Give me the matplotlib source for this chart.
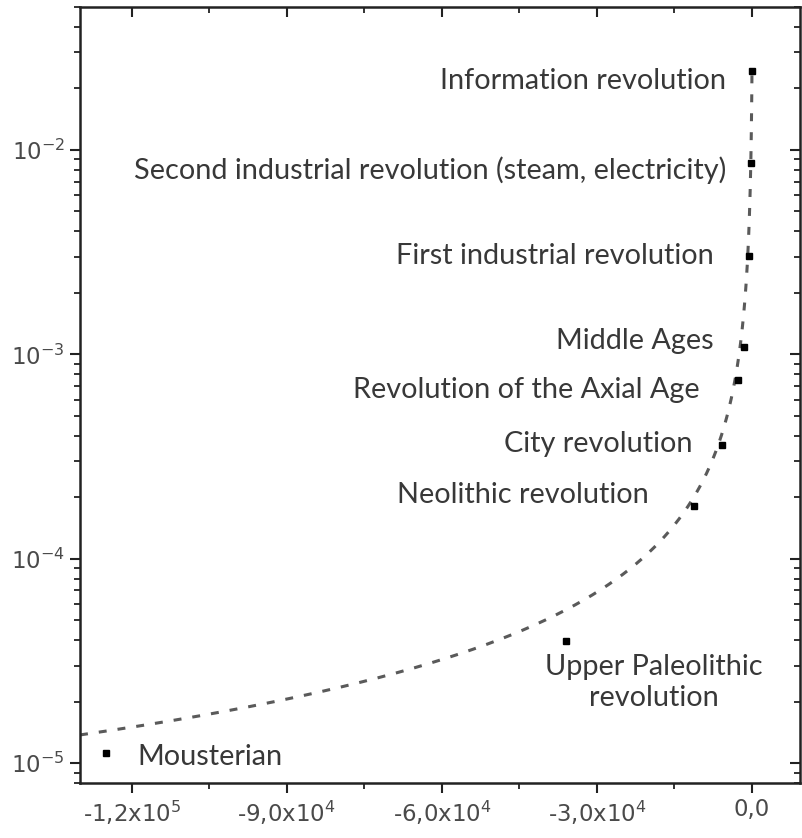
import numpy as np
import matplotlib
matplotlib.use("Agg")
import matplotlib.pyplot as plt
from matplotlib.ticker import FixedLocator, LogLocator, NullFormatter, FuncFormatter

plt.rcParams["mathtext.fontset"] = "custom"
plt.rcParams["mathtext.rm"] = "DejaVu Sans"
plt.rcParams["mathtext.it"] = "DejaVu Sans"
plt.rcParams["font.family"] = ["DejaVu Sans"]

# Time (years relative to present) and rate of each revolution
events = [
    "Information revolution",
    "Second industrial revolution (steam, electricity)",
    "First industrial revolution",
    "Middle Ages",
    "Revolution of the Axial Age",
    "City revolution",
    "Neolithic revolution",
    "Upper Paleolithic\nrevolution",
    "Mousterian",
]
years = [0, -200, -600, -1600, -2800, -5800, -11300, -36000, -125000]
rates = [2.43e-2, 8.65e-3, 3.03e-3, 1.09e-3, 7.48e-4, 3.60e-4, 1.81e-4, 3.97e-5, 1.12e-5]

# Hyperbolic-type trend: rate = C / (t0 - t)^k
fit_C = 5.81
fit_t0 = 140.0
fit_k = 1.1
fit_start, fit_end = -1.3e5, 0.0

xticks = [-1.2e5, -9.0e4, -6.0e4, -3.0e4, 0.0]
xtick_labels = [r"-1,2x10$^{5}$", r"-9,0x10$^{4}$", r"-6,0x10$^{4}$",
                r"-3,0x10$^{4}$", "0,0"]
xminor = [-1.05e5, -7.5e4, -4.5e4, -1.5e4]

# label offsets (points) and alignment for each event
label_offsets = [(-19, -7), (-18, -5), (-25, 0), (-22, 4), (-27, -7),
                 (-21, 1), (-32, 8), (63, -30), (23, -3)]
label_ha = ["right"] * 7 + ["center", "left"]

fig = plt.figure(figsize=(8.02, 8.38), dpi=100)
ax = fig.add_axes([0.0998, 0.0656, 0.8978, 0.926])

t_fit = np.linspace(fit_start, fit_end, 3000)
y_fit = fit_C / (fit_t0 - t_fit) ** fit_k
ax.plot(t_fit, y_fit, color="#5a5a5a", lw=2.2, dashes=(2.6, 3.6), zorder=2)

ax.plot(years, rates, linestyle="none", marker="s", ms=5, color="black",
        zorder=3)

txt_color = "#383838"
for name, x, y, off, ha in zip(events, years, rates, label_offsets, label_ha):
    ax.annotate(name, (x, y), xytext=off, textcoords="offset points",
                ha=ha, va="center", multialignment="center",
                linespacing=1.25, fontsize=20.8, family="Lato",
                color=txt_color)

ax.set_yscale("log")
ax.set_xlim(-1.3e5, 9.3e3)
ax.set_ylim(8e-6, 5e-2)

spine_color = "#222222"
for s in ax.spines.values():
    s.set_linewidth(1.8)
    s.set_color(spine_color)

ax.xaxis.set_major_locator(FixedLocator(xticks))
ax.set_xticklabels(xtick_labels)
ax.xaxis.set_minor_locator(FixedLocator(xminor))
ax.yaxis.set_major_locator(LogLocator(base=10, numticks=10))
ax.yaxis.set_minor_locator(LogLocator(base=10, subs=np.arange(2, 10), numticks=20))
ax.yaxis.set_minor_formatter(NullFormatter())
ax.yaxis.set_major_formatter(
    FuncFormatter(lambda v, p: r"10$^{%d}$" % round(np.log10(v))))

ax.tick_params(which="major", direction="out", length=7, width=1.5,
               color=spine_color, labelsize=16.5, labelcolor="#4a4a4a", pad=4)
ax.tick_params(which="minor", direction="out", length=4.5, width=1.3,
               color=spine_color)
ax.tick_params(axis="y", which="major", pad=4)

# inward ticks on the top and right edges
axt = ax.twiny()
axt.set_xlim(ax.get_xlim())
axt.xaxis.set_major_locator(FixedLocator(xticks))
axt.xaxis.set_minor_locator(FixedLocator(xminor))
axt.tick_params(which="major", direction="in", length=7, width=1.5,
                color=spine_color, labeltop=False)
axt.tick_params(which="minor", direction="in", length=4.5, width=1.3,
                color=spine_color)
axr = ax.twinx()
axr.set_yscale("log")
axr.set_ylim(ax.get_ylim())
axr.yaxis.set_major_locator(LogLocator(base=10, numticks=10))
axr.yaxis.set_minor_locator(LogLocator(base=10, subs=np.arange(2, 10), numticks=20))
axr.tick_params(which="major", direction="in", length=7, width=1.5,
                color=spine_color, labelright=False)
axr.tick_params(which="minor", direction="in", length=4.5, width=1.3,
                color=spine_color, labelright=False)
for a in (axt, axr):
    for s in a.spines.values():
        s.set_visible(False)

fig.savefig("out.png", dpi=100, facecolor="white")
